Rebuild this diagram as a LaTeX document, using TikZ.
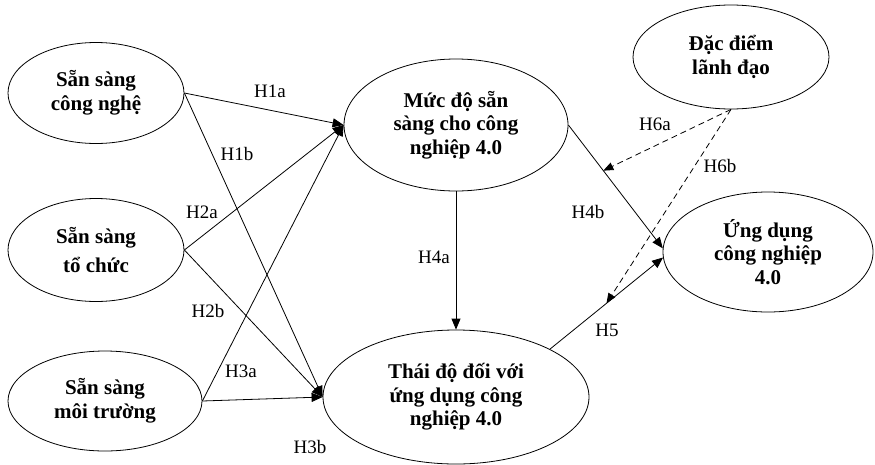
\documentclass[tikz,border=0pt]{standalone}
\usepackage{fontspec}
\setmainfont{Liberation Serif}
\usetikzlibrary{shapes.geometric,arrows.meta}
\tikzset{
  construct/.style={draw, ellipse, line width=0.8pt, inner sep=0pt, align=center,
    font=\fontsize{21}{23.5}\selectfont\bfseries},
  patharrow/.style={line width=0.8pt, -{Triangle[length=11pt,width=9pt]}},
  moderator/.style={line width=0.8pt, dash pattern=on 6pt off 4pt,
    -{Triangle[length=10pt,width=8pt]}},
  hyp/.style={font=\fontsize{19}{22}\selectfont, inner sep=0pt},
}

\begin{document}
\begin{tikzpicture}[x=1pt, y=-1pt]
			%%%%% START %%%%%
			\useasboundingbox (0, 0) rectangle (875, 464);
			
			\node[construct, minimum width=176pt, minimum height=101pt] (tech) at (96, 93) {Sẵn sàng\\công nghệ};
			\node[construct, minimum width=176pt, minimum height=103pt] (org) at (96, 250) {Sẵn sàng\\[6pt]tổ chức};
			\node[construct, minimum width=194pt, minimum height=100pt] (env) at (105, 401) {Sẵn sàng\\môi trường};
			
			\node[construct, minimum width=224pt, minimum height=132pt] (ready) at (456, 125) {Mức độ sẵn\\sàng cho công\\nghiệp 4.0};
			\node[construct, minimum width=266pt, minimum height=134pt] (attit) at (456, 397) {Thái độ đối với\\ứng dụng công\\nghiệp 4.0};
			
			\node[construct, minimum width=196pt, minimum height=104pt] (lead) at (731, 57) {Đặc điểm\\lãnh đạo};
			\node[construct, minimum width=210pt, minimum height=120pt] (adopt) at (768, 252) {Ứng dụng\\công nghiệp\\4.0};
			
			\draw[patharrow] (tech.east) -- (ready.west);
			\draw[patharrow] (tech.east) -- (attit.west);
			\draw[patharrow] (org.east) -- (ready.west);
			\draw[patharrow] (org.east) -- (attit.west);
			\draw[patharrow] (env.east) -- (ready.west);
			\draw[patharrow] (env.east) -- (attit.west);
			
			\draw[patharrow] (ready.south) -- (attit.north);
			\draw[patharrow] (ready.east) -- coordinate[pos=0.37] (mod6a) (adopt.178);
			\draw[patharrow] (attit.27) -- coordinate[pos=0.5] (mod6b) (adopt.183);
			
			\draw[moderator] (lead.south) -- (mod6a);
			\draw[moderator] (lead.south) -- (mod6b);
			
			\node[hyp] (h1a) at (270, 91) {H1a};
			\node[hyp] (h1b) at (237, 154) {H1b};
			\node[hyp] (h2a) at (202, 212) {H2a};
			\node[hyp] (h2b) at (208, 311) {H2b};
			\node[hyp] (h3a) at (241, 371) {H3a};
			\node[hyp] (h3b) at (310, 447) {H3b};
			\node[hyp] (h4a) at (434, 257) {H4a};
			\node[hyp] (h4b) at (588, 212) {H4b};
			\node[hyp] (h5) at (607, 330) {H5};
			\node[hyp] (h6a) at (655, 124) {H6a};
			\node[hyp] (h6b) at (720, 166) {H6b};
			
			%%%%% END %%%%%
\end{tikzpicture}
\end{document}
